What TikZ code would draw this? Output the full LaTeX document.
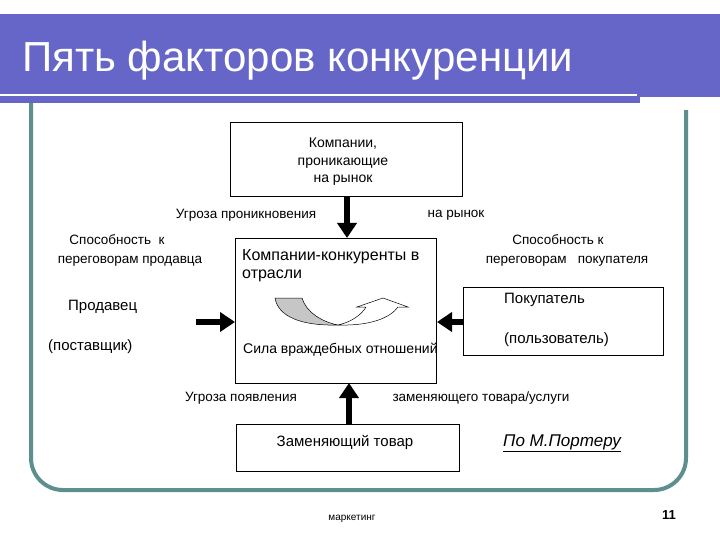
\documentclass[tikz,border=0pt]{standalone}
\usepackage{fontspec}
\setmainfont{Liberation Sans}
\usetikzlibrary{arrows.meta}
\definecolor{barc}{HTML}{6666C8}
\definecolor{framec}{HTML}{5E8F8F}
\begin{document}
\begin{tikzpicture}[x=1pt,y=-1pt,
  lbl/.style={font=\fontsize{13.5}{16}\selectfont,inner sep=0pt},
  mid/.style={font=\fontsize{15}{17}\selectfont,inner sep=0pt},
  big/.style={-{Triangle[width=19pt,length=15pt]},line width=6pt}]
\useasboundingbox (0,0) rectangle (720,540);
\fill[white] (0,0) rectangle (720,540);
% frame
\draw[framec,line width=4pt,rounded corners=32pt] (31,90) -- (31,490) -- (686,490) -- (686,90);
% title bar
\fill[barc] (0,14) rectangle (720,103);
\fill[white] (640,97) rectangle (720,110);
\draw[white,line width=2pt] (0,95) -- (637,95);
\node[anchor=base west,text=white,font=\fontsize{42}{44}\selectfont,inner sep=0pt] (title) at (22,72) {Пять факторов конкуренции};
% boxes
\draw[line width=0.8pt] (230,122) rectangle (462,196);
\coordinate (topb) at (347,196);
\node[lbl,align=center,font=\fontsize{14}{17.5}\selectfont] (t1) at (343,162) {Компании,\\проникающие\\на рынок};
\draw[line width=0.8pt] (235,238) rectangle (436,383);
\coordinate (cT) at (347,238); \coordinate (cL) at (235,322);
\coordinate (cR) at (437,322); \coordinate (cB) at (349,383);
\node[anchor=north west,align=left,inner sep=0pt,font=\fontsize{16}{18.5}\selectfont] (comp) at (242,249) {Компании-конкуренты в\\отрасли};
\node[lbl,anchor=west,font=\fontsize{14}{16}\selectfont] (sila) at (243,350) {Сила враждебных отношений};
\draw[line width=0.8pt] (463,287) rectangle (663,355);
\coordinate (rL) at (463,322);
\node[mid,anchor=west] (pok) at (504,300) {Покупатель};
\node[mid,anchor=west] (pol) at (504,340) {(пользователь)};
\draw[line width=0.8pt] (236,424) rectangle (459,471);
\coordinate (bT) at (349,424);
\node[mid] (zam) at (345,442) {Заменяющий товар};
% left seller
\coordinate (sR) at (196,322);
\node[mid,anchor=west] (prod) at (68,307) {Продавец};
\node[mid,anchor=west] (post) at (48,347) {(поставщик)};
% arrows
\draw[big] (topb) -- (cT);
\draw[big] (sR) -- (cL);
\draw[big] (rL) -- (cR);
\draw[big] (bT) -- (cB);
% labels
\node[lbl] (u1) at (246,215) {Угроза проникновения};
\node[lbl] (u2) at (456,215) {на рынок};
\node[lbl] (s1) at (117,240) {Способность\ \ к};
\node[lbl] (s2) at (130,261) {переговорам продавца};
\node[lbl] (s3) at (558,240) {Способность к};
\node[lbl] (s4) at (567,261) {переговорам\ \ \ покупателя};
\node[lbl] (u3) at (241,398) {Угроза появления};
\node[lbl] (u4) at (481,398) {заменяющего товара/услуги};
\node[lbl,anchor=west,font=\itshape\fontsize{17}{18}\selectfont] (port) at (503,443) {\underline{По М.Портеру}};
\node[lbl,font=\fontsize{10}{11}\selectfont] (mk) at (352,519) {маркетинг};
\node[lbl,font=\bfseries\fontsize{13}{14}\selectfont] (num) at (669,515) {11};
% curved arrow
\fill[gray!45,draw=black,line width=0.5pt] (275,298) -- (302,298) .. controls (306,312) and (322,322) .. (338,325) .. controls (300,326) and (278,316) .. (275,298) -- cycle;
\draw[fill=white,line width=0.5pt] (338,325) .. controls (352,322) and (362,314) .. (366,307) -- (357,307) -- (383,298) -- (408,307) -- (398,307) .. controls (390,318) and (370,326) .. (338,325);
\end{tikzpicture}
\end{document}
